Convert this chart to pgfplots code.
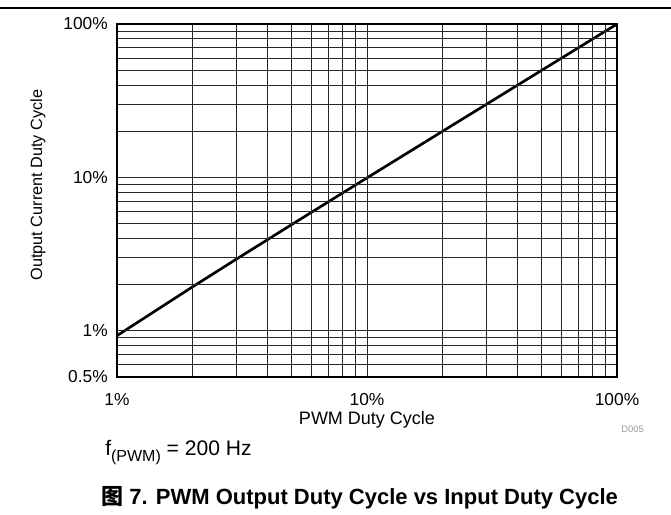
\documentclass[border=0pt]{standalone}
\usepackage{fontspec}
\setmainfont{Liberation Sans}
\newfontfamily\cjk{Noto Sans CJK SC}
\usepackage{pgfplots}
\pgfplotsset{compat=1.18}
\begin{document}
\begin{tikzpicture}
\begin{scope}[x=0.75pt,y=-0.75pt]
\path[use as bounding box] (0,0) rectangle (671,514);
\draw[line width=1.5pt] (0,7.5) -- (671,7.5);
\node[anchor=base west, inner sep=0, font=\fontsize{15.8}{18}\selectfont] at (105,455) {f\raisebox{-0.3em}{\fontsize{12}{14}\selectfont(PWM)} = 200 Hz};
\node[anchor=base east, inner sep=0, font=\fontsize{7}{8}\selectfont, text=black!40] at (644,432) {D005};
\node[anchor=base west, inner sep=0, font=\bfseries\fontsize{16.5}{19}\selectfont] at (101,504) {{\cjk\bfseries 图} 7. PWM Output Duty Cycle vs Input Duty Cycle};
\end{scope}
\begin{axis}[
  at={(87.75pt,-282.75pt)}, anchor=south west,
  scale only axis, width=375pt, height=264.75pt,
  xmode=log, ymode=log,
  xmin=1, xmax=100, ymin=0.5, ymax=100,
  xtick={1,10,100}, xticklabels={1\%,10\%,100\%},
  ytick={0.5,1,10,100}, yticklabels={0.5\%,1\%,10\%,100\%},
  minor xtick={2,3,4,5,6,7,8,9,20,30,40,50,60,70,80,90},
  minor ytick={0.6,0.7,0.8,0.9,2,3,4,5,6,7,8,9,20,30,40,50,60,70,80,90},
  grid=both,
  major grid style={black!85, line width=0.6pt},
  minor grid style={black!85, line width=0.6pt},
  tick style={draw=none},
  axis line style={line width=2.2pt},
  axis on top,
  ticklabel style={font=\fontsize{13}{15}\selectfont},
  xticklabel style={anchor=base, inner sep=0pt, yshift=-21pt},
  yticklabel style={anchor=east, inner sep=0pt, xshift=-6.75pt},
  xlabel={PWM Duty Cycle},
  ylabel={Output Current Duty Cycle},
  every axis x label/.style={at={(axis description cs:0.5,0)}, anchor=center, yshift=-32.25pt, font=\fontsize{13.5}{16}\selectfont},
  every axis y label/.style={at={([xshift=-59.25pt,yshift=11.5pt]axis description cs:0,0.5)}, rotate=90, anchor=center, font=\fontsize{12.2}{15}\selectfont},
]
\addplot[black, line width=2pt] coordinates {
  (1,0.93) (2,1.93) (3,2.93) (5,4.93) (10,9.93) (20,19.93) (50,49.93) (100,99.93)
};
\end{axis}
\end{tikzpicture}
\end{document}
